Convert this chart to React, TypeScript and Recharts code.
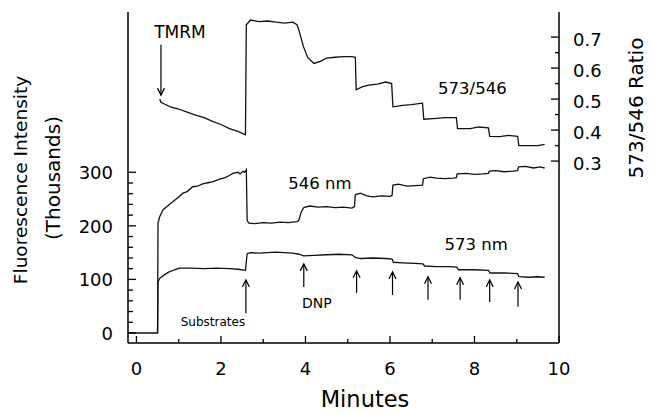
import { LineChart, Line, XAxis, YAxis, ReferenceLine, ReferenceDot } from "recharts";

// minutes, thousands of counts
const trace546: [number, number][] = [
  [-0.2, 0], [0.5, 0], [0.51, 205], [0.55, 217], [0.63, 230], [0.75, 238], [0.86, 245],
  [1.0, 254], [1.1, 261], [1.2, 264], [1.33, 273], [1.45, 274], [1.55, 278], [1.66, 280],
  [1.8, 282], [1.97, 287], [2.1, 290], [2.2, 294], [2.28, 298], [2.4, 300], [2.45, 297],
  [2.52, 302], [2.56, 300], [2.6, 305], [2.62, 210], [2.66, 205], [2.8, 204], [3.0, 206],
  [3.2, 205], [3.4, 207], [3.6, 206], [3.8, 208], [3.84, 210], [3.9, 226], [3.96, 234],
  [4.1, 237], [4.3, 235], [4.5, 236], [4.7, 234], [4.9, 235], [5.1, 233], [5.16, 236],
  [5.18, 258], [5.3, 261], [5.45, 256], [5.6, 254], [5.8, 256], [6.0, 255], [6.05, 257],
  [6.07, 276], [6.2, 278], [6.4, 274], [6.6, 275], [6.77, 276], [6.79, 288], [6.95, 291],
  [7.1, 289], [7.3, 288], [7.5, 289], [7.57, 290], [7.59, 297], [7.8, 298], [8.0, 296],
  [8.2, 297], [8.33, 298], [8.35, 302], [8.5, 303], [8.7, 301], [8.9, 302], [9.02, 303],
  [9.04, 310], [9.2, 311], [9.4, 308], [9.55, 310], [9.66, 308],
];

const trace573: [number, number][] = [
  [0.5, 0], [0.51, 95], [0.55, 102], [0.65, 108], [0.75, 113], [0.9, 118], [1.02, 121],
  [1.3, 121], [1.6, 120], [1.9, 121], [2.2, 120], [2.4, 119], [2.58, 117], [2.62, 148],
  [2.7, 150], [2.9, 149], [3.1, 150], [3.3, 151], [3.5, 150], [3.7, 149], [3.85, 147],
  [3.95, 144], [4.2, 145], [4.5, 146], [4.8, 147], [5.1, 146], [5.18, 141], [5.3, 139],
  [5.6, 140], [5.9, 139], [6.05, 138], [6.08, 132], [6.3, 131], [6.6, 130], [6.78, 129],
  [6.82, 125], [7.1, 124], [7.4, 124], [7.58, 123], [7.62, 118], [8.0, 118], [8.33, 117],
  [8.37, 112], [8.7, 112], [9.02, 111], [9.05, 105], [9.3, 104], [9.5, 105], [9.66, 104],
];

// 573/546 ratio, right axis
const traceRatio: [number, number][] = [
  [0.55, 0.5], [0.58, 0.49], [0.65, 0.485], [0.8, 0.475], [1.0, 0.468], [1.2, 0.458],
  [1.4, 0.448], [1.6, 0.44], [1.8, 0.428], [2.0, 0.418], [2.2, 0.405], [2.4, 0.396],
  [2.58, 0.385], [2.6, 0.74], [2.7, 0.755], [2.9, 0.75], [3.1, 0.752], [3.3, 0.748],
  [3.5, 0.745], [3.7, 0.748], [3.8, 0.74], [3.85, 0.72], [3.95, 0.67], [4.05, 0.635],
  [4.2, 0.615], [4.35, 0.622], [4.5, 0.632], [4.7, 0.635], [4.9, 0.637], [5.1, 0.637],
  [5.18, 0.635], [5.2, 0.53], [5.35, 0.54], [5.5, 0.545], [5.7, 0.548], [5.9, 0.555],
  [6.04, 0.55], [6.07, 0.475], [6.3, 0.48], [6.5, 0.482], [6.77, 0.487], [6.8, 0.435],
  [7.1, 0.438], [7.3, 0.44], [7.57, 0.44], [7.6, 0.405], [7.9, 0.405], [8.1, 0.41],
  [8.33, 0.407], [8.36, 0.38], [8.6, 0.379], [8.8, 0.383], [9.02, 0.38], [9.05, 0.35],
  [9.3, 0.35], [9.5, 0.35], [9.66, 0.354],
];

const xTicks = [0, 1, 2, 3, 4, 5, 6, 7, 8, 9, 10];
const leftTicks = [0, 20, 40, 60, 80, 100, 120, 140, 160, 180, 200, 220, 240, 260, 280, 300];
const rightTicks = [0.3, 0.35, 0.4, 0.45, 0.5, 0.55, 0.6, 0.65, 0.7];

// Substrates + DNP additions (left axis units)
const arrowTimes = [2.59, 3.96, 5.21, 6.06, 6.9, 7.66, 8.36, 9.03];
const arrowTops = [99, 129, 116, 114, 105, 103, 99, 95];
const arrowBottoms = [37, 86, 75, 71, 62, 62, 58, 49];

// TMRM addition
const tmrmTime = 0.58;
const tmrmFrom = 538;
const tmrmTo = 444;

const noteTexts = ["TMRM", "573/546", "546 nm", "573 nm", "DNP", "Substrates"];
const noteTimes = [1.03, 7.95, 4.34, 8.04, 4.27, 1.81];
const noteLevels = [562, 457, 280, 166, 56, 20.5];
const noteSizes = [17, 16.5, 16.5, 16.5, 14, 12];

const FONT = "DejaVu Sans";
const INK = "#000";

const toRows = (pairs: [number, number][]) => pairs.map(([t, v]) => ({ t, v }));

const XTick = (props: any) => {
  const { x, y, payload } = props;
  const major = payload.value % 2 === 0;
  return (
    <g>
      <line x1={x} x2={x} y1={y} y2={y - (major ? 7 : 4)} stroke={INK} strokeWidth={1.3} />
      {major && (
        <text x={x} y={y + 32} textAnchor="middle" fontFamily={FONT} fontSize={18} fill={INK}>
          {payload.value}
        </text>
      )}
    </g>
  );
};

const LeftTick = (props: any) => {
  const { x, y, payload } = props;
  const major = payload.value % 100 === 0;
  return (
    <g>
      <line x1={x} x2={x + (major ? 8 : 5)} y1={y} y2={y} stroke={INK} strokeWidth={1.3} />
      {major && (
        <text x={x - 15} y={y + 7} textAnchor="end" fontFamily={FONT} fontSize={18} fill={INK}>
          {payload.value}
        </text>
      )}
    </g>
  );
};

const RightTick = (props: any) => {
  const { x, y, payload } = props;
  const major = Math.round(payload.value * 100) % 10 === 0;
  return (
    <g>
      <line x1={x} x2={x - (major ? 8 : 4)} y1={y} y2={y} stroke={INK} strokeWidth={1.3} />
      {major && (
        <text x={x + 14} y={y + 9} textAnchor="start" fontFamily={FONT} fontSize={18} fill={INK}>
          {payload.value.toFixed(1)}
        </text>
      )}
    </g>
  );
};

const Arrow = (props: any) => {
  const { x1, y1, x2, y2 } = props;
  const dir = y2 < y1 ? 1 : -1;
  return (
    <g>
      <line x1={x1} y1={y1} x2={x2} y2={y2} stroke={INK} strokeWidth={1.2} />
      <polyline
        points={`${x2 - 3.5},${y2 + dir * 7} ${x2},${y2} ${x2 + 3.5},${y2 + dir * 7}`}
        fill="none"
        stroke={INK}
        strokeWidth={1.2}
      />
    </g>
  );
};

const noteShape = (i: number) => (props: any) => (
  <text
    x={props.cx}
    y={props.cy}
    dy="0.36em"
    textAnchor="middle"
    fontFamily={FONT}
    fontSize={noteSizes[i]}
    fill={INK}
  >
    {noteTexts[i]}
  </text>
);

export default function App() {
  const axisLine = { stroke: INK, strokeWidth: 1.5 };
  return (
    <div style={{ position: "absolute", left: 0, top: 0, width: 650, height: 414, background: "#fff" }}>
      <LineChart width={650} height={414} margin={{ top: 12, right: 0, bottom: 0, left: 0 }}>
        <XAxis
          xAxisId="b"
          dataKey="t"
          type="number"
          domain={[-0.2, 10]}
          allowDataOverflow
          ticks={xTicks}
          interval={0}
          height={71}
          tickSize={0}
          tickMargin={0}
          tickLine={false}
          axisLine={axisLine}
          tick={<XTick />}
          label={() => (
            <text x={365} y={407} textAnchor="middle" fontFamily={FONT} fontSize={22.5} fill={INK}>
              Minutes
            </text>
          )}
        />
        <XAxis
          xAxisId="top"
          orientation="top"
          dataKey="t"
          type="number"
          domain={[-0.2, 10]}
          allowDataOverflow
          height={0}
          tick={false}
          tickLine={false}
          axisLine={axisLine}
        />
        <YAxis
          yAxisId="left"
          orientation="left"
          type="number"
          domain={[-18.7, 599.2]}
          allowDataOverflow
          ticks={leftTicks}
          interval={0}
          width={128}
          tickSize={0}
          tickMargin={0}
          tickLine={false}
          axisLine={axisLine}
          tick={<LeftTick />}
          label={() => (
            <g>
              <text transform="translate(27,180) rotate(-90)" textAnchor="middle" fontFamily={FONT} fontSize={18.5} fill={INK}>
                Fluorescence Intensity
              </text>
              <text transform="translate(60,178) rotate(-90)" textAnchor="middle" fontFamily={FONT} fontSize={20} fill={INK}>
                (Thousands)
              </text>
            </g>
          )}
        />
        <YAxis
          yAxisId="right"
          orientation="right"
          type="number"
          domain={[-0.287, 0.781]}
          allowDataOverflow
          ticks={rightTicks}
          interval={0}
          width={91}
          tickSize={0}
          tickMargin={0}
          tickLine={false}
          axisLine={axisLine}
          tick={<RightTick />}
          label={() => (
            <text transform="translate(643,108) rotate(-90)" textAnchor="middle" fontFamily={FONT} fontSize={20} fill={INK}>
              573/546 Ratio
            </text>
          )}
        />

        <Line
          xAxisId="b"
          yAxisId="left"
          data={toRows(trace546)}
          dataKey="v"
          type="linear"
          stroke="#111"
          strokeWidth={1.3}
          dot={false}
          isAnimationActive={false}
        />
        <Line
          xAxisId="b"
          yAxisId="left"
          data={toRows(trace573)}
          dataKey="v"
          type="linear"
          stroke="#111"
          strokeWidth={1.3}
          dot={false}
          isAnimationActive={false}
        />
        <Line
          xAxisId="b"
          yAxisId="right"
          data={toRows(traceRatio)}
          dataKey="v"
          type="linear"
          stroke="#111"
          strokeWidth={1.3}
          dot={false}
          isAnimationActive={false}
        />

        {arrowTimes.map((t, i) => (
          <ReferenceLine
            key={"a" + i}
            xAxisId="b"
            yAxisId="left"
            segment={[{ x: t, y: arrowBottoms[i] }, { x: t, y: arrowTops[i] }]}
            shape={Arrow}
          />
        ))}
        <ReferenceLine
          xAxisId="b"
          yAxisId="left"
          segment={[{ x: tmrmTime, y: tmrmFrom }, { x: tmrmTime, y: tmrmTo }]}
          shape={Arrow}
        />

        {noteTexts.map((_, i) => (
          <ReferenceDot
            key={"n" + i}
            xAxisId="b"
            yAxisId="left"
            x={noteTimes[i]}
            y={noteLevels[i]}
            r={0}
            shape={noteShape(i)}
          />
        ))}
      </LineChart>
    </div>
  );
}
